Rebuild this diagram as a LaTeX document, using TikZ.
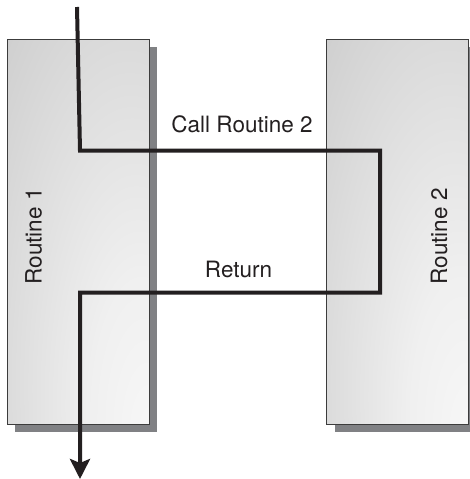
\documentclass[tikz,border=0pt]{standalone}
\usepackage{fontspec}
\setmainfont{TeX Gyre Heros}
\usetikzlibrary{arrows.meta,shadows}
\definecolor{linecol}{HTML}{231F20}
\definecolor{shadowgray}{HTML}{808184}
\definecolor{edgegray}{HTML}{3C3C3C}
\pgfdeclareradialshading{boxshade}{\pgfpoint{26bp}{-28bp}}{%
  color(0bp)=(white!97!black);
  color(18bp)=(white!94!black);
  color(55bp)=(white!82!black);
  color(80bp)=(white!74!black);
  color(105bp)=(white!66!black);
  color(130bp)=(white!62!black)}
\tikzset{
  routine/.style={draw=edgegray, line width=1pt, shading=boxshade,
    drop shadow={shadow xshift=8pt, shadow yshift=-8pt, fill=shadowgray, opacity=1},
    minimum width=142pt, minimum height=385pt, inner sep=0pt},
  lbl/.style={font=\fontsize{22.5}{25}\selectfont, text=linecol, inner sep=0pt, anchor=base},
  flow/.style={draw=linecol, line width=4pt, line join=miter},
  flowtip/.style={-{Stealth[length=20pt,width=20pt,inset=4pt]}},
}
\begin{document}
\begin{tikzpicture}[x=1pt,y=-1pt]
\useasboundingbox (0,0) rectangle (470,479);
\node[routine] (r1) at (78,231.5) {};
\node[routine] (r2) at (397.5,231.5) {};
\node[lbl, rotate=90] (t1) at (41.5,236.5) {Routine 1};
\node[lbl, rotate=90] (t2) at (447,236.5) {Routine 2};
\node[lbl] (call) at (242,132) {Call Routine 2};
\node[lbl] (ret) at (238.5,277) {Return};
\coordinate (s) at (77,7);
\coordinate (a) at (80,150.7);
\coordinate (b) at (380,150.7);
\coordinate (c) at (380,292.5);
\coordinate (d) at (80,292.5);
\coordinate (e) at (80,479);
\draw[flow, flowtip] (s) -- (a) -- (b) -- (c) -- (d) -- (e);
\end{tikzpicture}
\end{document}
